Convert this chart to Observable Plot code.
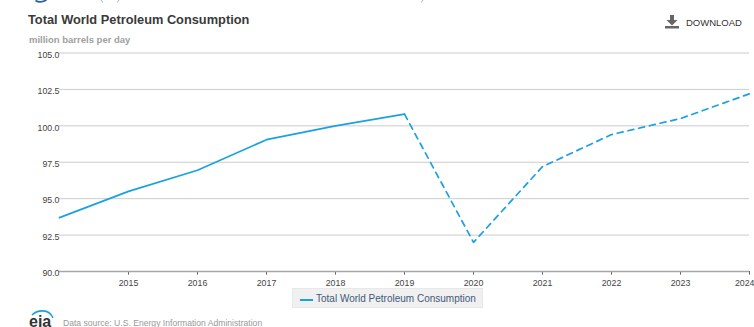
<!DOCTYPE html>
<html>
<head>
<meta charset="utf-8">
<script src="https://cdn.jsdelivr.net/npm/d3@7"></script>
<script src="https://cdn.jsdelivr.net/npm/@observablehq/plot@0.6"></script>
<style>
  html, body { margin: 0; padding: 0; background: #fff; overflow: hidden; }
  body { width: 754px; height: 327px; position: relative; font-family: "Liberation Sans", Arial, sans-serif; }
  #head { position: relative; height: 45px; }
  #rule-top { position: absolute; left: 0; top: 0; }
  #title { position: absolute; left: 28px; top: 12px; font-size: 12.8px; font-weight: bold; color: #3a3a3a; white-space: nowrap; }
  #units { position: absolute; left: 29px; top: 34px; font-size: 9.5px; font-weight: bold; color: #a0a0a0; white-space: nowrap; }
  #download { position: absolute; left: 686px; top: 17px; font-size: 9.5px; color: #333; white-space: nowrap; }
  #icon { position: absolute; left: 665px; top: 15px; }
  #chart { position: absolute; left: 0; top: 45px; }
  #legend { position: absolute; left: 292px; top: 288px; width: 191px; height: 20px; background: #f0f0f0; border: 1px solid #e8e8e8; box-sizing: border-box; color: #3f5a7a; font-size: 10px; line-height: 20px; white-space: nowrap; }
  #legend i { position: absolute; left: 7px; top: 10px; width: 13px; height: 2px; background: #1ba1e2; }
  #legend span { position: absolute; left: 23px; top: 0; }
  #logo { position: absolute; left: 28px; top: 309px; }
  #source { position: absolute; left: 63px; top: 318px; font-size: 8.6px; color: #999; white-space: nowrap; }
</style>
</head>
<body>
<div id="head">
  <!-- Descender strokes of the page heading running off the top edge -->
  <svg id="rule-top" width="440" height="6" viewBox="0 0 440 6" fill="none">
    <path d="M35.5 0.5 Q40 3.6 46.5 0" stroke="#2f5f9f" stroke-width="1.8"/>
    <path d="M101 0 Q101.5 1.6 103 2.2 M117 2.2 Q118.5 1.6 119 0 M421 2.2 Q422.5 1.6 423 0" stroke="#9db8d8" stroke-width="1"/>
  </svg>
  <div id="title">Total World Petroleum Consumption</div>
  <div id="units">million barrels per day</div>
  <svg id="icon" width="15" height="14" viewBox="0 0 15 14"><path d="M5 0h4v5h3.5L7 10.5 1.5 5H5z M0 11h14v2.5H0z" fill="#666"/></svg>
  <div id="download">DOWNLOAD</div>
</div>
<div id="chart"></div>
<div id="legend"><i></i><span>Total World Petroleum Consumption</span></div>
<svg id="logo" width="28" height="18" viewBox="0 0 28 18">
  <path d="M4 6 C9 1 21 -1 25 9" fill="none" stroke="#1ba1e2" stroke-width="1.6"/>
  <text x="1" y="17.5" font-family="Liberation Sans, Arial, sans-serif" font-weight="bold" font-size="16" fill="#333">eia</text>
</svg>
<div id="source">Data source: U.S. Energy Information Administration</div>
<script>
// Annual world petroleum consumption, million barrels per day
const years = [2014, 2015, 2016, 2017, 2018, 2019, 2020, 2021, 2022, 2023, 2024];
const consumption = [93.7, 95.5, 96.95, 99.05, 100.0, 100.8, 92.0, 97.2, 99.4, 100.5, 102.2];
const tickYears = [2015, 2016, 2017, 2018, 2019, 2020, 2021, 2022, 2023, 2024];
const tickValues = [90, 92.5, 95, 97.5, 100, 102.5, 105];
const lastHistorical = 2019;

const rows = years.map((year, i) => ({year, value: consumption[i]}));
const actual = rows.filter(d => d.year <= lastHistorical);
const forecast = rows.filter(d => d.year >= lastHistorical);

const plot = Plot.plot({
  width: 754,
  height: 246,
  marginLeft: 59,
  marginRight: 5,
  marginTop: 7.5,
  marginBottom: 20,
  style: {fontFamily: '"Liberation Sans", Arial, sans-serif', fontSize: "9px", color: "#444", background: "transparent"},
  x: {domain: [2014, 2024], label: null, axis: null},
  y: {domain: [90, 105], label: null},
  marks: [
    Plot.ruleY(tickValues.filter(v => v > 90), {y: d => d, x1: 2014, x2: 2024, stroke: "#cccccc", strokeWidth: 1, strokeOpacity: 1}),
    Plot.ruleX(tickYears, {x: d => d, y1: 90, y2: 89.75, stroke: "#666", strokeWidth: 1}),
    Plot.ruleY([90], {stroke: "#a6a6a6", strokeWidth: 1.6}),
    Plot.axisY({ticks: tickValues, tickFormat: d => d.toFixed(1), tickSize: 0, tickPadding: 0, dy: 2, label: null, fill: "#444", fontSize: 8.8}),
    // The last year sits at the window edge, so its label is end-anchored to stay readable
    Plot.text(tickYears.slice(0, -1), {x: d => d, y: 90, text: d => String(d), textAnchor: "middle", dy: 12, fill: "#444", fontSize: 8.8}),
    Plot.text(tickYears.slice(-1), {x: d => d, y: 90, text: d => String(d), textAnchor: "end", dx: 5, dy: 12, fill: "#444", fontSize: 8.8}),
    Plot.line(actual, {x: "year", y: "value", stroke: "#1ba1e2", strokeWidth: 1.7, curve: "linear"}),
    Plot.line(forecast, {x: "year", y: "value", stroke: "#1ba1e2", strokeWidth: 1.7, strokeDasharray: "6,5", curve: "linear"})
  ]
});
document.getElementById("chart").append(plot);
</script>
</body>
</html>
